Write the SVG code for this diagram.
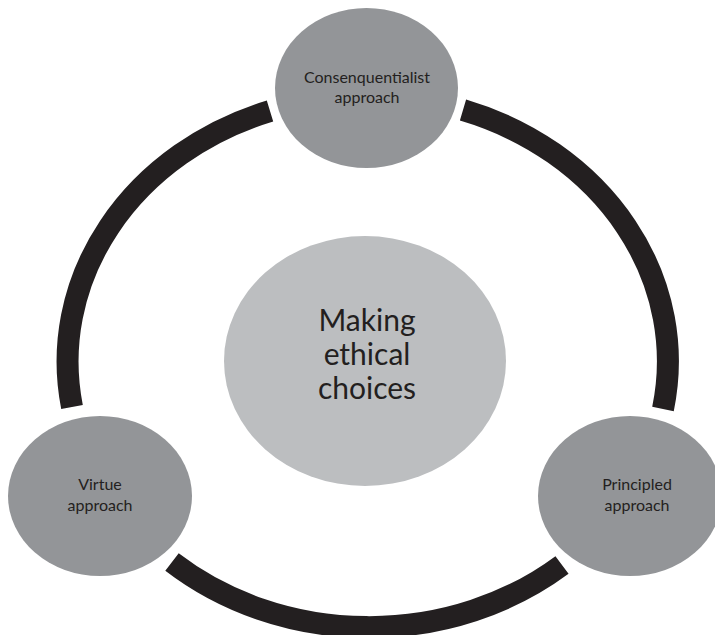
<svg xmlns="http://www.w3.org/2000/svg" width="715" height="635" viewBox="0 0 715 635">
<style>
.ring{fill:none;stroke:#231f20;stroke-width:22;stroke-linecap:butt}
.node{fill:#939598}
.hub{fill:#bcbec0}
.t{font-family:Lato,"Open Sans","Liberation Sans",sans-serif;fill:#231f20;text-anchor:middle}
.s{font-size:16px}
.b{font-size:30px}
</style>
<rect width="715" height="635" fill="#ffffff"/>
<g id="connectors">
<path class="ring" d="M270,111 A300,265 0 0 0 72,407"/>
<path class="ring" d="M463,110 A300,265 0 0 1 663,409"/>
<path class="ring" d="M562,565 A300,265 0 0 1 172,562"/>
</g>
<g id="hub">
<ellipse class="hub" cx="365" cy="361" rx="141" ry="125"/>
<text class="t b" x="367" y="331">Making</text>
<text class="t b" x="367" y="365">ethical</text>
<text class="t b" x="367" y="399">choices</text>
</g>
<g id="consequentialist">
<ellipse class="node" cx="366.5" cy="88" rx="91.5" ry="80"/>
<text class="t s" x="367" y="83">Consenquentialist</text>
<text class="t s" x="367" y="103">approach</text>
</g>
<g id="virtue">
<ellipse class="node" cx="100" cy="496" rx="92" ry="80"/>
<text class="t s" x="100" y="490">Virtue</text>
<text class="t s" x="100" y="511">approach</text>
</g>
<g id="principled">
<ellipse class="node" cx="630" cy="496" rx="92" ry="80"/>
<text class="t s" x="637" y="490">Principled</text>
<text class="t s" x="637" y="511">approach</text>
</g>
</svg>
